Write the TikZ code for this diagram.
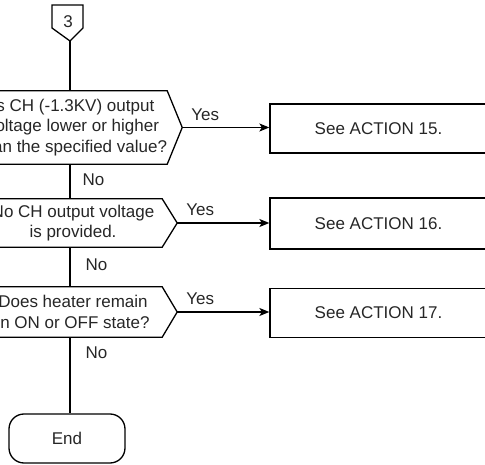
\documentclass[tikz,border=0pt]{standalone}
\usepackage{fontspec}
\setmainfont{Liberation Sans}
\usetikzlibrary{arrows.meta}
\begin{document}
\begin{tikzpicture}[x=1pt,y=-1pt,
  line/.style={draw=black,line width=1.3pt},
  txt/.style={text=black!85,font=\fontsize{17}{20.5}\selectfont,align=center,inner sep=0pt},
  dec/.style={txt,minimum width=184pt},
  act/.style={line,txt,minimum width=217pt},
  lbl/.style={text=black!85,font=\fontsize{17}{20}\selectfont,inner sep=0pt},
  arr/.style={line,-{Stealth[length=10pt,width=8pt,inset=2.5pt]}}]
\useasboundingbox (0,0) rectangle (485,465);
\clip (0,0) rectangle (485,465);
% off-page connector
\node[txt] (c3) at (68,21.5) {3};
\draw[line] (52,5) -- (83,5) -- (83,28) -- (70,41) -- (52,28) -- cycle;
\coordinate (c3tip) at (70,41);
% decisions
\node[dec,minimum height=73pt] (d1) at (70,127.5) {\hspace*{6pt}Is CH (-1.3KV) output\\\hspace*{6pt}voltage lower or higher\\\hspace*{6pt}than the specified value?};
\node[dec,minimum height=48pt] (d2) at (70,223) {\hspace*{6pt}No CH output voltage\\\hspace*{6pt}is provided.};
\node[dec,minimum height=50pt] (d3) at (70,312) {\hspace*{6pt}Does heater remain\\\hspace*{6pt}in ON or OFF state?};
\foreach \d in {d1,d2,d3}{
  \draw[line] (\d.north west) -- (\d.north east) -- ([xshift=15pt]\d.east) -- (\d.south east) -- (\d.south west) -- ([xshift=-15pt]\d.west) -- cycle;
}
% actions
\node[act,minimum height=49pt] (a1) at (378.5,128.5) {See ACTION 15.};
\node[act,minimum height=51pt] (a2) at (378.5,223.5) {See ACTION 16.};
\node[act,minimum height=49pt] (a3) at (378.5,313) {See ACTION 17.};
% end terminal
\node[line,txt,rounded corners=15pt,minimum width=116pt,minimum height=49pt] (end) at (67,438.5) {End};
% connectors
\draw[line] (c3tip) -- (d1.north);
\draw[line] (d1.south) -- node[lbl,anchor=west,pos=0.45,xshift=12pt]{No} (d2.north);
\draw[line] (d2.south) -- node[lbl,anchor=west,pos=0.45,xshift=15pt]{No} (d3.north);
\draw[line] (d3.south) -- node[lbl,anchor=west,pos=0.2,xshift=15pt]{No} (d3.south |- end.north);
\foreach \d/\a/\n in {d1/a1/Yes,d2/a2/Yes,d3/a3/Yes}{
  \coordinate (\d tip) at ([xshift=15pt]\d.east);
  \draw[arr] (\d tip) -- (\d tip -| \a.west);
  \node[lbl] at ([xshift=23pt,yshift=13pt]\d tip) {\n};
}
\end{tikzpicture}
\end{document}
